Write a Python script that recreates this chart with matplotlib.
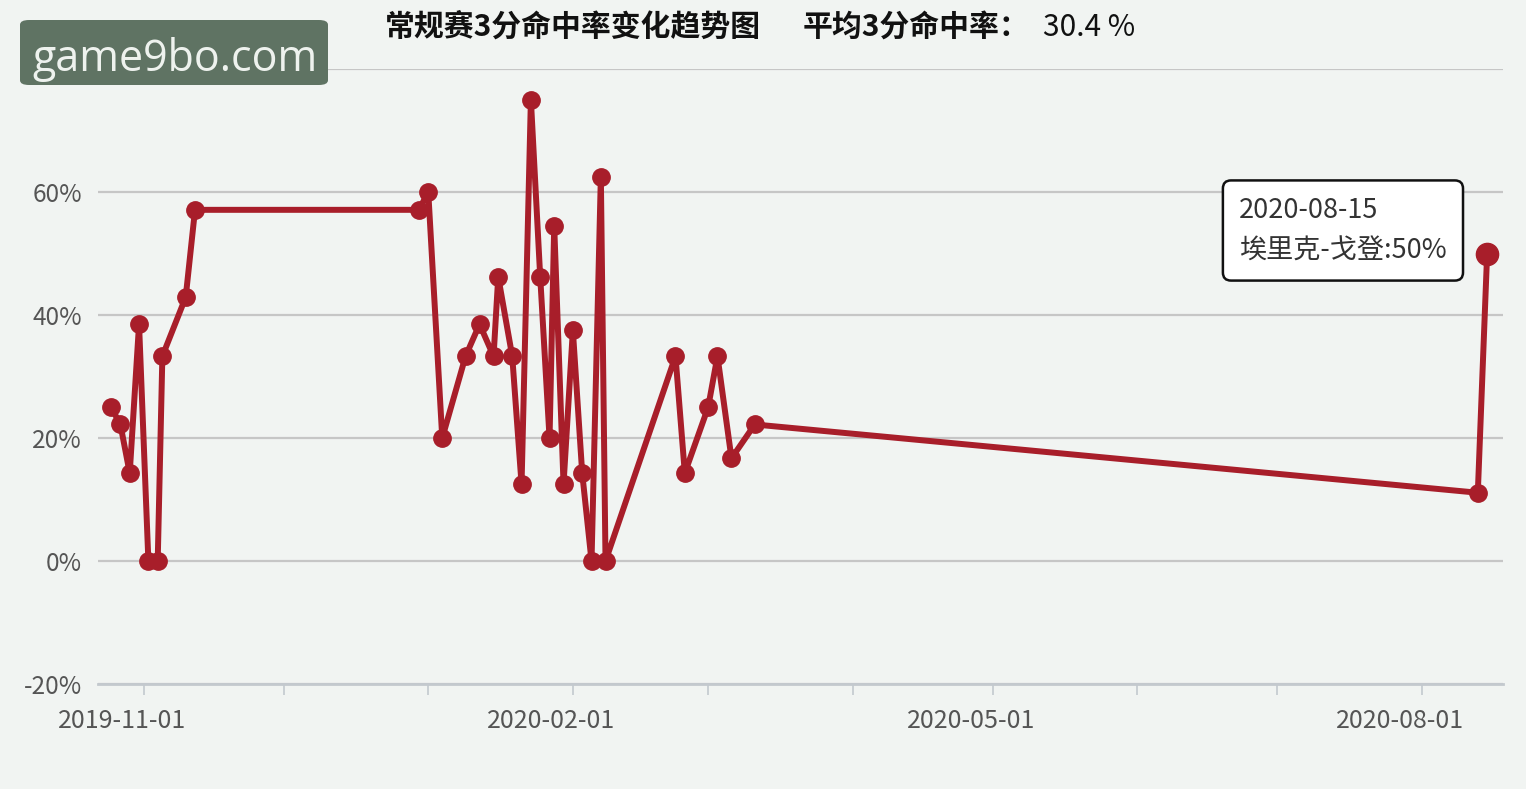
import datetime as dt
import matplotlib
matplotlib.use("Agg")
import matplotlib.pyplot as plt
import matplotlib.dates as mdates
import matplotlib.transforms as mtransforms
from matplotlib.patches import FancyBboxPatch

plt.rcParams['font.family'] = ['Noto Sans CJK SC', 'DejaVu Sans']

# 比赛日期与三分命中率（%）
dates = ["2019-10-25", "2019-10-27", "2019-10-29", "2019-10-31", "2019-11-02",
         "2019-11-04", "2019-11-05", "2019-11-10", "2019-11-12", "2019-12-30",
         "2020-01-01", "2020-01-04", "2020-01-09", "2020-01-12", "2020-01-15",
         "2020-01-16", "2020-01-19", "2020-01-21", "2020-01-23", "2020-01-25",
         "2020-01-27", "2020-01-28", "2020-01-30", "2020-02-01", "2020-02-03",
         "2020-02-05", "2020-02-07", "2020-02-08", "2020-02-23", "2020-02-25",
         "2020-03-01", "2020-03-03", "2020-03-06", "2020-03-11", "2020-08-13",
         "2020-08-15"]
pct = [25.0, 22.2, 14.3, 38.5, 0.0, 0.0, 33.3, 42.9, 57.1, 57.1,
       60.0, 20.0, 33.3, 38.5, 33.3, 46.2, 33.3, 12.5, 75.0, 46.2,
       20.0, 54.5, 12.5, 37.5, 14.3, 0.0, 62.5, 0.0, 33.3, 14.3,
       25.0, 33.3, 16.7, 22.2, 11.1, 50.0]
y_ticks = [-20, 0, 20, 40, 60, 80]
x_labels = ["2019-11-01", "2020-02-01", "2020-05-01", "2020-08-01"]
title_1 = "常规赛3分命中率变化趋势图"
title_2 = "平均3分命中率："
title_avg = "30.4 %"
tip_date = "2020-08-15"
tip_text = "埃里克-戈登:50%"

bg = "#f1f4f2"
red = "#a81e2a"

x = [dt.datetime.strptime(d, "%Y-%m-%d") for d in dates]

fig = plt.figure(figsize=(15.26, 7.89), dpi=100, facecolor=bg)
ax = fig.add_axes([98 / 1526, 105 / 789, 1405 / 1526, 615 / 789])
ax.set_facecolor(bg)

ax.plot(x, pct, color=red, lw=4.3, marker="o", ms=12.5, mfc=red, mec=red,
        solid_joinstyle="round", zorder=3)
ax.plot(x[-1], pct[-1], "o", color=red, ms=16, zorder=4)

nov1 = dt.datetime(2019, 11, 1)
ax.set_xlim(nov1 - dt.timedelta(days=9.8), nov1 + dt.timedelta(days=291.4))
ax.set_ylim(-20, 80)

ax.set_yticks(y_ticks)
ax.set_yticklabels([f"{v}%" if v != 80 else "" for v in y_ticks])
ax.grid(axis="y", color="#c6c6c6", lw=1.6)
ax.set_axisbelow(True)

ax.xaxis.set_major_locator(mdates.MonthLocator())
fmt = mdates.DateFormatter("%Y-%m-%d")
ax.xaxis.set_major_formatter(
    plt.FuncFormatter(lambda v, p: fmt(v) if fmt(v) in x_labels else ""))

for s in ["top", "left", "right"]:
    ax.spines[s].set_visible(False)
ax.spines["bottom"].set_color("#c3c9ce")
ax.spines["bottom"].set_linewidth(2)

ax.tick_params(axis="x", length=8, width=1.2, color="#c3c9ce",
               labelsize=18, labelcolor="#555555", pad=9)
ax.tick_params(axis="y", length=0, labelsize=17.5, labelcolor="#555555",
               pad=11.5)
shift = mtransforms.ScaledTranslation(-22 / 100, 0, fig.dpi_scale_trans)
for lab in ax.get_xticklabels():
    lab.set_transform(lab.get_transform() + shift)

ty = 1 - 27 / 789
fig.text(385 / 1526, ty, title_1, fontsize=21.5, fontweight="bold",
         ha="left", va="center", color="#111111")
fig.text(803 / 1526, ty, title_2, fontsize=21.5, fontweight="bold",
         ha="left", va="center", color="#111111")
fig.text(1043 / 1526, ty, title_avg, fontsize=21.5,
         ha="left", va="center", color="#111111")

# 悬浮提示框
ax.annotate(tip_date + "\n" + tip_text, xy=(x[-1], pct[-1]),
            xytext=(-248, 23), textcoords="offset pixels",
            ha="left", va="center", fontsize=19.5, color="#333333",
            linespacing=1.65,
            bbox=dict(boxstyle="round,pad=0.6,rounding_size=0.3",
                      fc="white", ec="#111111", lw=1.8), zorder=6)

# 水印
wm = FancyBboxPatch((20 / 1526, 1 - 85 / 789), 308 / 1526, 65 / 789,
                    boxstyle="round,pad=0,rounding_size=0.006",
                    transform=fig.transFigure, fc="#5f7363", ec="none",
                    zorder=10)
fig.patches.append(wm)
fig.text(175 / 1526, 1 - 59 / 789, "game9bo.com", fontsize=31,
         family=["Open Sans", "DejaVu Sans"], color="#eef2ee",
         ha="center", va="center", zorder=11)

fig.savefig("out.png", dpi=100, facecolor=bg)
